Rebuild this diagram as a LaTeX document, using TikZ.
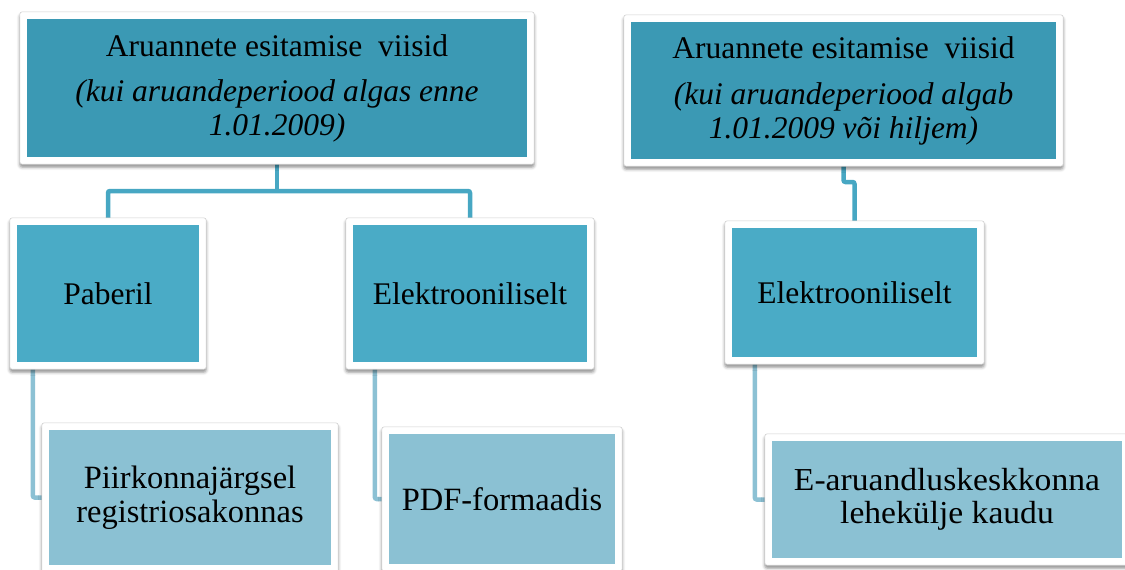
\documentclass[tikz,border=0pt]{standalone}
\usepackage{fontspec}
\setmainfont{Liberation Serif}
\newfontfamily\wideserif{Liberation Serif}[FakeStretch=1.05]
\usetikzlibrary{backgrounds,shadows.blur}

\definecolor{topfill}{HTML}{3B99B4}
\definecolor{midfill}{HTML}{4AABC6}
\definecolor{lowfill}{HTML}{8BC1D3}
\definecolor{linkdark}{HTML}{47A7C3}
\definecolor{linklight}{HTML}{8CC1D4}
\definecolor{rim}{HTML}{D2D2D2}

\tikzset{
  box/.style={rectangle, inner sep=0pt, align=center, text=black},
  topbox/.style={box, fill=topfill, font=\fontsize{31.5}{34}\selectfont},
  midbox/.style={box, fill=midfill, font=\fontsize{31.5}{34}\selectfont},
  lowbox/.style={box, fill=lowfill, font=\fontsize{32.5}{34}\selectfont},
  frame/.style={fill=white, draw=rim, line width=0.6pt, rounded corners=2.5pt,
    blur shadow={shadow xshift=0pt, shadow yshift=-3pt,
                 shadow blur radius=3pt, shadow opacity=45}},
  link/.style={draw=linkdark, line width=4.5pt, rounded corners=2pt},
  sublink/.style={draw=linklight, line width=4.5pt, rounded corners=2pt},
}

% white rim with shadow around a box node
\newcommand\boxrim[1]{%
  \path[frame] ([shift={(-7,7)}]#1.south west) rectangle ([shift={(7,-7)}]#1.north east);}

\begin{document}
\begin{tikzpicture}[x=1pt, y=-1pt]
\useasboundingbox (0,0) rectangle (1125,570);

% top level
\node[topbox, minimum width=500pt, minimum height=138pt] (t1) at (277,88)
  {Aruannete esitamise\hspace{0.25em} viisid\\[11pt]
   \textit{(kui aruandeperiood algas enne}\\
   \textit{1.01.2009)}};
\node[topbox, minimum width=425pt, minimum height=137pt] (t2) at (843.5,90.5)
  {Aruannete esitamise\hspace{0.25em} viisid\\[12pt]
   \textit{(kui aruandeperiood algab}\\
   \textit{1.01.2009 või hiljem)}};

% second level
\node[midbox, minimum width=182pt, minimum height=137pt] (pap) at (108,293.5) {Paberil};
\node[midbox, minimum width=234pt, minimum height=137pt] (el1) at (470,293.5) {Elektrooniliselt};
\node[midbox, minimum width=245pt, minimum height=129pt] (el2) at (854.5,292.5) {Elektrooniliselt};

% third level
\node[lowbox, minimum width=282pt, minimum height=135pt] (piir) at (190,497.5)
  {Piirkonnajärgsel\\registriosakonnas};
\node[lowbox, minimum width=226pt, minimum height=130pt] (pdf) at (502,499) {PDF-formaadis};
\node[lowbox, minimum width=350pt, minimum height=117pt, font=\wideserif\fontsize{32}{33}\selectfont]
  (ea) at (947,499.5) {E-aruandluskeskkonna\\lehekülje kaudu};

\coordinate (j1) at (277,191);
\coordinate (j2) at (843.5,182);

\begin{scope}[on background layer]
  % connectors
  \draw[link] (t1.south) -- (j1);
  \draw[link] (pap.north) |- (j1) -| (el1.north);
  \draw[link] (t2.south) -- (j2) -| (el2.north);
  \draw[sublink] ([xshift=16pt]pap.south west) |- (piir.west);
  \draw[sublink] ([xshift=22pt]el1.south west) |- (pdf.west);
  \draw[sublink] ([xshift=23pt]el2.south west) |- (ea.west);
  % white rims
  \boxrim{t1}\boxrim{t2}
  \boxrim{pap}\boxrim{el1}\boxrim{el2}
  \boxrim{piir}\boxrim{pdf}\boxrim{ea}
\end{scope}
\end{tikzpicture}
\end{document}
